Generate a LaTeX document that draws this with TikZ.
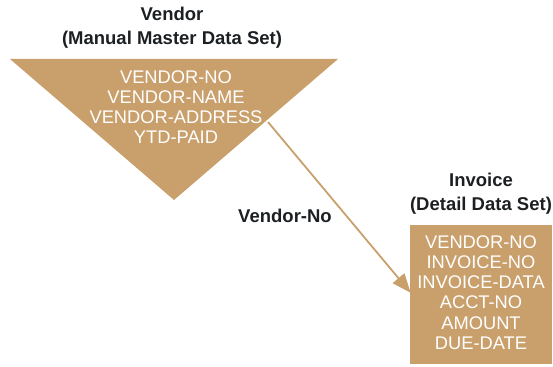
\documentclass[tikz,border=0pt]{standalone}
\usepackage{fontspec}
\setmainfont{Liberation Sans}
\usetikzlibrary{arrows.meta}
\definecolor{tan}{RGB}{201,160,108}
\definecolor{ink}{RGB}{28,32,34}
\tikzset{
  title/.style={text=ink, align=center, font=\bfseries\fontsize{18.5}{24}\selectfont, inner sep=0pt},
  field/.style={text=white, align=center, font=\fontsize{18.3}{20.2}\selectfont, inner sep=0pt},
  link/.style={draw=tan, line width=1.8pt, -{Triangle[length=19pt,width=15pt]}, shorten >=-1pt},
}
\begin{document}
\begin{tikzpicture}[x=1pt,y=-1pt]
\useasboundingbox (0,0) rectangle (553,366);
% Vendor master data set (triangle)
\fill[tan] (10,59) -- (338,59) -- (174,200) -- cycle;
\node[title] (vtitle) at (172,28) {Vendor\\(Manual Master Data Set)};
\node[field] (vfields) at (176,107) {VENDOR-NO\\VENDOR-NAME\\VENDOR-ADDRESS\\YTD-PAID};
% Invoice detail data set (box)
\node[fill=tan, minimum width=142pt, minimum height=139pt, inner sep=0pt] (invoice) at (481,294.5) {};
\node[field] (ifields) at (481,292.5) {VENDOR-NO\\INVOICE-NO\\INVOICE-DATA\\ACCT-NO\\AMOUNT\\DUE-DATE};
\node[title] (ititle) at (481,194) {Invoice\\(Detail Data Set)};
% link
\coordinate (vstart) at (268,122);
\coordinate (vend) at (410,292);
\draw[link] (vstart) -- (vend);
\node[title] (lbl) at (285,216) {Vendor-No};
\end{tikzpicture}
\end{document}
